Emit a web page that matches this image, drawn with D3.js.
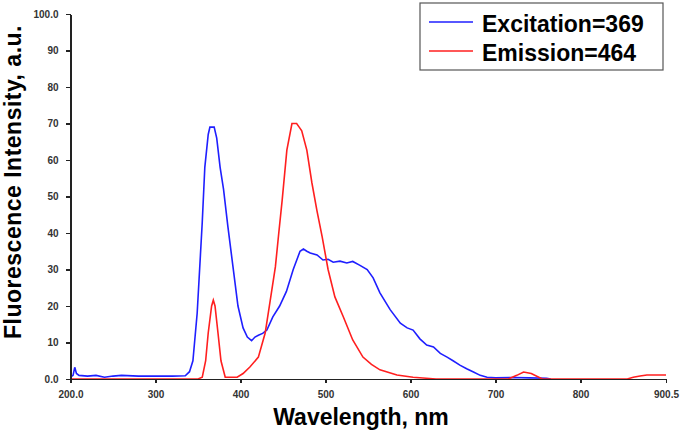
<!DOCTYPE html>
<meta charset="utf-8">
<head>
    <title>Fluorescence</title>
</head>

<style>
body { margin: 0; background: #fff; }

.line {
    fill: none;
    stroke-width: 1.6px;
}

.axis path,
.axis line {
  fill: none;
  stroke: #222;
  stroke-width: 1.5px;
  shape-rendering: crispEdges;
}

.axis text {
  font: bold 10px "Liberation Sans", Arial, sans-serif;
  fill: #333;
}

.title {
  font-family: "Liberation Sans", Arial, sans-serif;
  font-weight: bold;
  fill: #000;
}
</style>
<body>
<script src="https://cdn.jsdelivr.net/npm/d3@7"></script>
<script>

// wavelength (nm), intensity (a.u.)
var excitation = [
  [200,0.5],[203,1],[205,3.2],[207,1.5],[210,1],[220,0.8],[230,1],[240,0.5],[250,0.8],
  [260,1],[280,0.8],[300,0.8],[320,0.8],[335,0.9],[340,2],[344,5],[349,18],[355,43],
  [358,58],[362,67],[364,69],[369,69],[372,66],[376,58],[380,52],[385,42],[391,31],
  [397,20],[403,14],[408,11.5],[413,10.5],[417,11.5],[421,12],[426,12.5],[431,13.4],
  [438,17],[446,20],[454,24],[462,30],[470,35],[474,35.6],[478,35],[482,34.5],[490,34],
  [497,32.6],[503,32.8],[509,32],[517,32.3],[525,31.8],[532,32.2],[540,31.2],[549,30],
  [556,27.7],[564,23.6],[576,19],[588,15.3],[596,14],[603,13.4],[611,11],[619,9.3],
  [627,8.8],[635,7],[643,6],[650,5],[658,3.8],[666,2.8],[674,1.9],[682,1],[690,0.5],
  [700,0.3],[720,0.4],[740,0.3],[760,0.2],[765,0]
];

var emission = [
  [200,0],[350,0],[355,0.5],[359,5],[362,12.6],[366,20],[368,21.6],[370,20],[373.5,12.6],
  [377,5],[382,0.5],[396,0.5],[403,1.5],[411,3.3],[421,6],[429,12.6],[435,21.6],
  [441,30.7],[445,40],[449,49],[454.5,62.7],[460.5,70],[466,70],[469,69],[472,68],
  [478,62.7],[484,53.7],[490,46],[496,39],[503,30],[511,22.5],[521,17],[532,10.7],
  [544,6],[554,4],[564,2.5],[584,1.1],[603,0.5],[630,0],[715,0],[725,1],[733,1.9],
  [742,1.5],[755,0],[855,0],[862,0.5],[870,0.8],[878,1.1],[900.5,1.1]
];

var xTicks = [200, 300, 400, 500, 600, 700, 800, 900.5];
var xTickLabels = ["200.0", "300", "400", "500", "600", "700", "800", "900.5"];
var yTicks = [0, 10, 20, 30, 40, 50, 60, 70, 80, 90, 100];
var yTickLabels = ["0.0", "10", "20", "30", "40", "50", "60", "70", "80", "90", "100.0"];

var seriesNames = ["Excitation=369", "Emission=464"];
var seriesColors = ["#1f1fff", "#ff1f1f"];

var margin = {top: 14, right: 19, bottom: 54, left: 70.5},
    width = 685 - margin.left - margin.right,
    height = 433 - margin.top - margin.bottom;

var x = d3.scaleLinear()
    .domain([200, 900.5])
    .range([0, width]);

var y = d3.scaleLinear()
    .domain([0, 100])
    .range([height, 0]);

var line = d3.line()
    .x(function(d) { return x(d[0]); })
    .y(function(d) { return y(d[1]); });

var root = d3.select("body").append("svg")
    .attr("width", 685)
    .attr("height", 433);

var svg = root.append("g")
    .attr("transform", "translate(" + margin.left + "," + margin.top + ")");

svg.append("path")
    .datum(excitation)
    .attr("class", "line")
    .style("stroke", seriesColors[0])
    .attr("d", line);

svg.append("path")
    .datum(emission)
    .attr("class", "line")
    .style("stroke", seriesColors[1])
    .attr("d", line);

svg.append("g")
    .attr("class", "axis axis--x")
    .attr("transform", "translate(0," + height + ")")
    .call(d3.axisBottom(x)
        .tickValues(xTicks)
        .tickSize(4)
        .tickSizeOuter(0)
        .tickPadding(8)
        .tickFormat(function(d, i) { return xTickLabels[i]; }));

svg.append("g")
    .attr("class", "axis axis--y")
    .call(d3.axisLeft(y)
        .tickValues(yTicks)
        .tickSize(5)
        .tickSizeOuter(0)
        .tickPadding(7)
        .tickFormat(function(d, i) { return yTickLabels[i]; }));

// axis titles
root.append("text")
    .attr("class", "title")
    .attr("x", 361)
    .attr("y", 425)
    .attr("text-anchor", "middle")
    .style("font-size", "23px")
    .text("Wavelength, nm");

root.append("text")
    .attr("class", "title")
    .attr("transform", "translate(21,182) rotate(-90)")
    .attr("text-anchor", "middle")
    .style("font-size", "23px")
    .style("letter-spacing", "0.5px")
    .text("Fluorescence Intensity, a.u.");

// legend
var legend = root.append("g")
    .attr("transform", "translate(420,3)");

legend.append("rect")
    .attr("width", 243)
    .attr("height", 67)
    .style("fill", "#fff")
    .style("stroke", "#555")
    .style("stroke-width", 1.2);

var item = legend.selectAll(".item")
    .data(seriesNames)
  .enter().append("g")
    .attr("class", "item")
    .attr("transform", function(d, i) { return "translate(0," + (19 + i * 29) + ")"; });

item.append("line")
    .attr("x1", 9)
    .attr("x2", 53)
    .style("stroke", function(d, i) { return seriesColors[i]; })
    .style("stroke-width", 1.6);

item.append("text")
    .attr("class", "title")
    .attr("x", 62)
    .attr("y", 10)
    .style("font-size", "23px")
    .text(function(d) { return d; });

</script>
